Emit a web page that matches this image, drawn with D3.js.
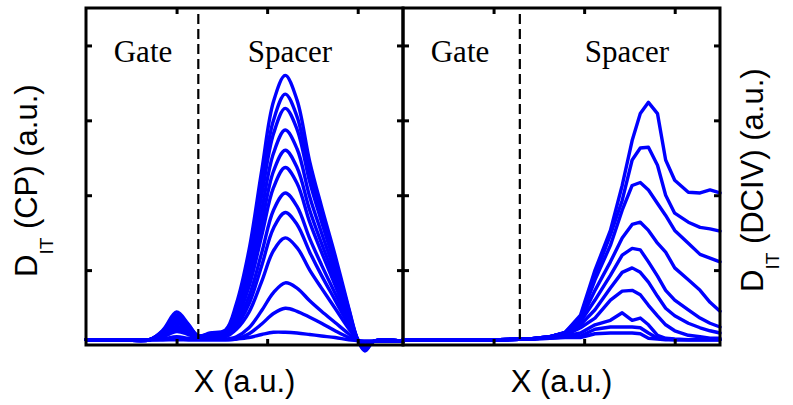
<!DOCTYPE html>
<meta charset="utf-8">
<style>
body { margin: 0; background: #fff; }
.frame { fill: none; stroke: #000; stroke-width: 3px; }
.axis path { display: none; }
.axis line { stroke: #000; stroke-width: 3px; }
.curve { fill: none; stroke: #0000ff; stroke-width: 3.4px; stroke-linejoin: round; stroke-linecap: round; }
.divider { stroke: #000; stroke-width: 2.2px; stroke-dasharray: 10 5; }
.region { font: 31px "Liberation Serif", "Times New Roman", serif; fill: #000; }
.xlabel, .ylabel { font: 31px "Liberation Sans", Arial, sans-serif; fill: #000; }
</style>
<svg id="chart" width="793" height="405"></svg>
<script src="https://cdn.jsdelivr.net/npm/d3@7"></script>
<script>

// shared x grid of the CP panel (a.u.)
var cpX = [0, 0.4, 0.7, 0.85, 1.0, 1.13, 1.24, 1.37, 1.54, 1.66, 1.8, 1.94, 2.07, 2.2, 2.33, 2.47, 2.6, 2.75, 2.9, 3.0, 3.08, 3.18, 3.5];

// D_IT (CP) curves, one row per measurement
var cp1  = [0.07,0.07,0.07,0.2,0.44,0.28,0.12,0.16,0.2,0.55,1.27,2.33,3.25,3.6,3.27,2.45,1.85,1.2,0.5,0.07,-0.08,0.05,0.05];
var cp2  = [0.07,0.07,0.07,0.19,0.4,0.26,0.12,0.15,0.19,0.5,1.17,2.15,3.0,3.35,3.05,2.3,1.74,1.13,0.48,0.07,-0.07,0.05,0.05];
var cp3  = [0.07,0.07,0.07,0.18,0.37,0.25,0.12,0.15,0.18,0.46,1.08,2.0,2.82,3.16,2.88,2.18,1.65,1.07,0.45,0.07,-0.06,0.05,0.05];
var cp4  = [0.07,0.07,0.07,0.17,0.34,0.24,0.12,0.14,0.17,0.42,0.97,1.8,2.56,2.87,2.62,1.98,1.5,0.97,0.42,0.07,-0.05,0.05,0.05];
var cp5  = [0.07,0.07,0.07,0.16,0.31,0.22,0.11,0.14,0.16,0.38,0.87,1.62,2.32,2.6,2.37,1.8,1.36,0.88,0.38,0.07,-0.05,0.05,0.05];
var cp6  = [0.07,0.07,0.07,0.15,0.29,0.21,0.11,0.13,0.15,0.34,0.78,1.46,2.1,2.37,2.16,1.64,1.24,0.8,0.35,0.07,-0.04,0.05,0.05];
var cp7  = [0.07,0.07,0.07,0.13,0.25,0.18,0.1,0.12,0.14,0.29,0.65,1.23,1.8,2.03,1.85,1.42,1.07,0.69,0.31,0.07,-0.03,0.05,0.05];
var cp8  = [0.07,0.07,0.07,0.12,0.22,0.16,0.1,0.11,0.13,0.25,0.55,1.06,1.56,1.77,1.61,1.24,0.93,0.6,0.27,0.07,-0.02,0.05,0.05];
var cp9  = [0.07,0.07,0.07,0.11,0.18,0.14,0.09,0.1,0.11,0.21,0.44,0.85,1.26,1.43,1.3,1.0,0.76,0.49,0.22,0.07,0,0.05,0.05];
var cp10 = [0.07,0.07,0.07,0.08,0.11,0.09,0.08,0.08,0.08,0.11,0.23,0.46,0.7,0.83,0.76,0.59,0.45,0.3,0.15,0.06,0.04,0.05,0.05];
var cp11 = [0.07,0.07,0.07,0.07,0.08,0.07,0.07,0.07,0.07,0.08,0.15,0.28,0.42,0.49,0.45,0.37,0.29,0.19,0.1,0.06,0.05,0.05,0.05];
var cp12 = [0.07,0.07,0.07,0.07,0.07,0.07,0.07,0.07,0.07,0.08,0.1,0.14,0.17,0.17,0.16,0.14,0.12,0.1,0.07,0.06,0.05,0.05,0.05];

// shared x grid of the DCIV panel (a.u.)
var dcX = [0, 1.07, 1.4, 1.62, 1.79, 1.96, 2.12, 2.29, 2.42, 2.53, 2.62, 2.71, 2.81, 2.9, 3.0, 3.15, 3.28, 3.39, 3.5];

// D_IT (DCIV) curves
var dc1  = [0.07,0.07,0.08,0.11,0.17,0.4,1.0,1.53,2.13,2.73,3.09,3.24,3.09,2.47,2.2,2.04,2.03,2.07,2.03];
var dc2  = [0.07,0.07,0.08,0.11,0.17,0.36,0.93,1.47,1.93,2.47,2.63,2.64,2.4,2.0,1.76,1.64,1.57,1.55,1.52];
var dc3  = [0.07,0.07,0.08,0.11,0.16,0.36,0.87,1.33,1.8,2.13,2.17,2.07,1.89,1.73,1.53,1.36,1.21,1.16,1.11];
var dc4  = [0.07,0.07,0.08,0.11,0.16,0.33,0.73,1.11,1.43,1.61,1.64,1.53,1.36,1.24,1.03,0.87,0.73,0.57,0.45];
var dc5  = [0.07,0.07,0.08,0.11,0.16,0.31,0.6,0.93,1.2,1.29,1.27,1.11,0.92,0.73,0.6,0.47,0.36,0.29,0.24];
var dc6  = [0.07,0.07,0.08,0.1,0.15,0.27,0.47,0.76,0.97,1.03,0.97,0.84,0.65,0.49,0.39,0.29,0.23,0.19,0.16];
var dc7  = [0.07,0.07,0.08,0.1,0.13,0.23,0.36,0.6,0.72,0.73,0.67,0.53,0.39,0.27,0.19,0.13,0.11,0.09,0.09];
var dc8  = [0.07,0.07,0.08,0.1,0.12,0.16,0.27,0.33,0.43,0.33,0.36,0.27,0.13,0.09,0.08,0.07,0.07,0.07,0.07];
var dc9  = [0.07,0.07,0.08,0.09,0.11,0.12,0.21,0.24,0.24,0.24,0.23,0.16,0.09,0.08,0.07,0.07,0.07,0.07,0.07];
var dc10 = [0.07,0.07,0.08,0.09,0.1,0.1,0.15,0.16,0.16,0.16,0.15,0.09,0.08,0.07,0.07,0.07,0.07,0.07,0.07];

var cpSeries = [cp1, cp2, cp3, cp4, cp5, cp6, cp7, cp8, cp9, cp10, cp11, cp12];
var dcSeries = [dc1, dc2, dc3, dc4, dc5, dc6, dc7, dc8, dc9, dc10];

var xTicks = [1, 2, 3],
    yTicks = [1, 2, 3, 4];

var panelW = 317, panelH = 337, plotTop = 8;

var x = d3.scaleLinear().domain([0, 3.5]).range([0, panelW]);
var y = d3.scaleLinear().domain([0, 4.5]).range([panelH, 0]);

var svg = d3.select("#chart");

function drawPanel(left, xs, series, curve, gateX, gateLabelX, spacerLabelX) {
  var g = svg.append("g").attr("transform", "translate(" + left + "," + plotTop + ")");

  var line = d3.line()
      .x(function(d, i) { return x(xs[i]); })
      .y(function(d) { return y(d); })
      .curve(curve);

  g.selectAll(".curve")
      .data(series)
    .enter().append("path")
      .attr("class", "curve")
      .attr("d", line);

  // dashed gate / spacer boundary
  g.append("line")
      .attr("class", "divider")
      .attr("x1", x(gateX)).attr("x2", x(gateX))
      .attr("y1", 6).attr("y2", panelH - 4);

  g.append("text").attr("class", "region")
      .attr("x", gateLabelX).attr("y", 54)
      .attr("text-anchor", "middle").text("Gate");
  g.append("text").attr("class", "region")
      .attr("x", spacerLabelX).attr("y", 54)
      .attr("text-anchor", "middle").text("Spacer");

  // inward ticks on all four sides, no labels
  g.append("g").attr("class", "axis")
      .attr("transform", "translate(0," + panelH + ")")
      .call(d3.axisBottom(x).tickValues(xTicks).tickSize(-6).tickFormat(""));
  g.append("g").attr("class", "axis")
      .call(d3.axisTop(x).tickValues(xTicks).tickSize(-6).tickFormat(""));
  g.append("g").attr("class", "axis")
      .call(d3.axisLeft(y).tickValues(yTicks).tickSize(-6).tickFormat(""));
  g.append("g").attr("class", "axis")
      .attr("transform", "translate(" + panelW + ",0)")
      .call(d3.axisRight(y).tickValues(yTicks).tickSize(-6).tickFormat(""));

  g.append("rect").attr("class", "frame")
      .attr("width", panelW).attr("height", panelH);

  g.append("text").attr("class", "xlabel")
      .attr("x", panelW / 2).attr("y", 384)
      .attr("text-anchor", "middle").text("X (a.u.)");
}

drawPanel(86, cpX, cpSeries, d3.curveCatmullRom, 1.24, 57, 204);
drawPanel(403, dcX, dcSeries, d3.curveLinear, 1.29, 57, 224);

function yLabel(tx, ty, rest) {
  var t = svg.append("text").attr("class", "ylabel")
      .attr("transform", "translate(" + tx + "," + ty + ") rotate(-90)");
  t.append("tspan").text("D");
  t.append("tspan").attr("dy", 16).style("font-size", "19px").text("IT");
  t.append("tspan").attr("dy", -16).text(rest);
}

yLabel(37, 277, " (CP) (a.u.)");
yLabel(763, 292, " (DCIV) (a.u.)");

</script>
